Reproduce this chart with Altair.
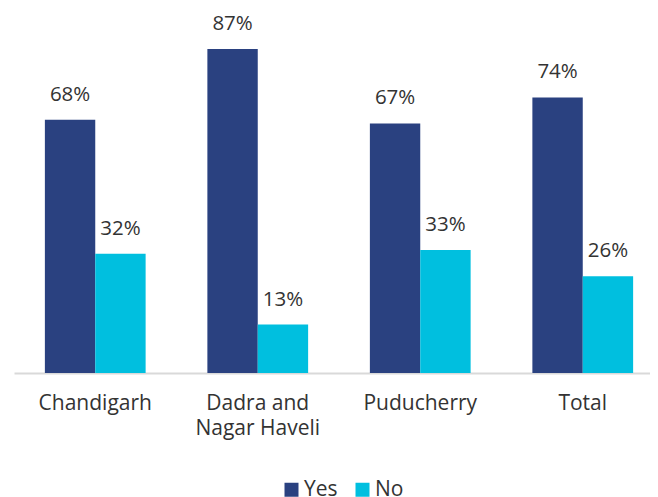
import altair as alt
import pandas as pd

categories = ["Chandigarh", "Dadra and Nagar Haveli", "Puducherry", "Total"]
series = ["Yes", "No"]
yes_values = [68, 87, 67, 74]
no_values = [32, 13, 33, 26]
colors = ["#2A4180", "#00BFDF"]

rows = []
for c, y, n in zip(categories, yes_values, no_values):
    rows.append({"cat": c, "series": "Yes", "value": y, "label": f"{y}%"})
    rows.append({"cat": c, "series": "No", "value": n, "label": f"{n}%"})
df = pd.DataFrame(rows)

label_expr = "datum.value == 'Dadra and Nagar Haveli' ? ['Dadra and', 'Nagar Haveli'] : datum.value"

x = alt.X("cat:N", sort=categories,
          scale=alt.Scale(paddingInner=0.38, paddingOuter=0.19, range=[0, 650]),
          axis=alt.Axis(title=None, labelAngle=0, ticks=False, domain=True,
                        domainColor="#D9D9D9", domainWidth=2,
                        labelFont="Open Sans", labelFontSize=21, labelColor="#333333",
                        labelPadding=19, labelExpr=label_expr, labelLineHeight=25))
y = alt.Y("value:Q", scale=alt.Scale(domain=[0, 98], nice=False), axis=None)
xo = alt.XOffset("series:N", sort=series)

bars = alt.Chart(df).mark_bar().encode(
    x=x, xOffset=xo, y=y,
    color=alt.Color("series:N", sort=series,
                    scale=alt.Scale(domain=series, range=colors),
                    legend=alt.Legend(title=None, orient="none", direction="horizontal",
                                      legendX=267, legendY=471, symbolType="square",
                                      symbolSize=196, symbolStrokeWidth=0,
                                      labelFont="Open Sans", labelFontSize=21,
                                      labelColor="#333333", columnPadding=14,
                                      labelOffset=2)),
)

text = alt.Chart(df).mark_text(dy=-15, baseline="bottom", font="Open Sans",
                               fontSize=20.5, color="#333333").encode(
    x=x, xOffset=xo, y=y, text="label:N"
)

chart = (bars + text).properties(
    width=636, height=365,
    padding={"left": 6, "top": 0, "right": 0, "bottom": 124},
    autosize=alt.AutoSizeParams(type="none"),
).configure_view(stroke=None)

chart.save("out.html", embed_options={"renderer": "svg", "actions": False})
